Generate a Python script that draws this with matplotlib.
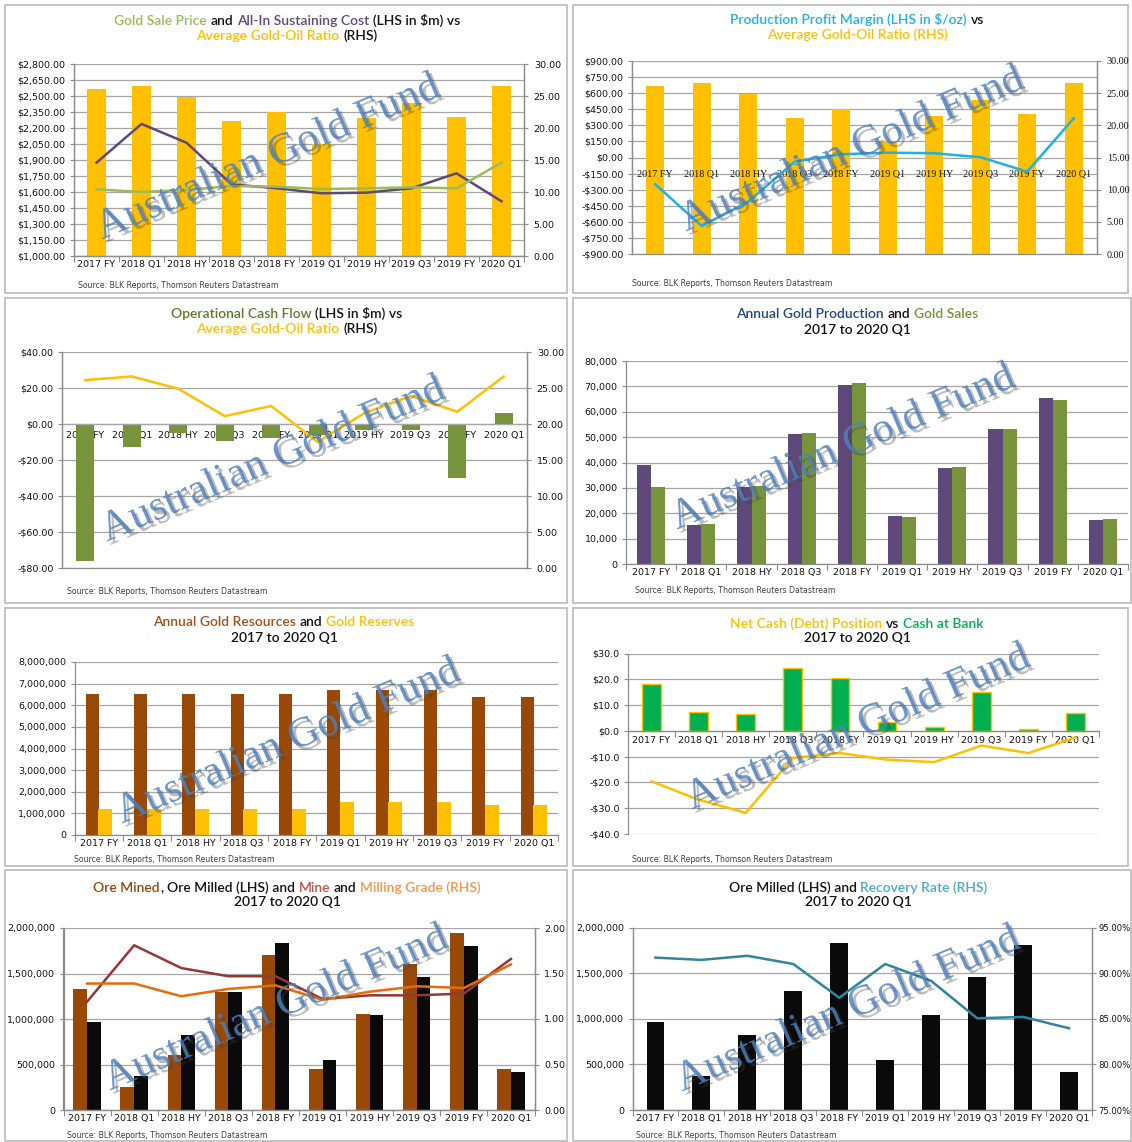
import numpy as np
import matplotlib
matplotlib.use('Agg')
import matplotlib.pyplot as plt
import matplotlib.patheffects as pe
from matplotlib.patches import Rectangle
from matplotlib.offsetbox import TextArea, HPacker, AnchoredOffsetbox

# ---------------- data ----------------
periods = ["2017 FY", "2018 Q1", "2018 HY", "2018 Q3", "2018 FY",
           "2019 Q1", "2019 HY", "2019 Q3", "2019 FY", "2020 Q1"]

gold_oil_ratio = [26.1, 26.6, 24.9, 21.1, 22.5, 17.5, 21.5, 23.9, 21.7, 26.6]
gold_sale_price = [1625, 1600, 1619, 1656, 1650, 1628, 1634, 1644, 1634, 1875]
aisc = [1875, 2238, 2062, 1672, 1635, 1588, 1594, 1635, 1775, 1513]
profit_margin = [-250, -639, -412, -39, 30, 45, 40, 2, -132, 366]
op_cash_flow = [-76.3, -13.0, -5.2, -9.3, -8.0, -6.2, -3.5, -3.5, -29.8, 6.0]
gold_production = [39200, 15500, 30300, 51200, 70500, 19000, 38000, 53300, 65400, 17500]
gold_sales = [30500, 15800, 30800, 51600, 71500, 18400, 38200, 53300, 64800, 17700]
gold_resources = [6500000, 6500000, 6500000, 6500000, 6500000,
                  6720000, 6720000, 6720000, 6390000, 6390000]
gold_reserves = [1200000, 1200000, 1200000, 1200000, 1200000,
                 1520000, 1520000, 1520000, 1380000, 1380000]
cash_at_bank = [18.3, 7.2, 6.6, 24.2, 20.6, 3.4, 1.5, 15.0, 0.6, 7.0]
net_cash = [-19.6, -26.7, -31.8, -10.5, -8.6, -11.2, -12.1, -5.7, -8.6, -2.6]
ore_mined = [1325000, 250000, 605000, 1292000, 1699000, 451000, 1057000, 1607000, 1941000, 455000]
ore_milled = [965000, 378000, 825000, 1300000, 1833000, 553000, 1045000, 1460000, 1806000, 421000]
mine_grade = [1.19, 1.81, 1.56, 1.47, 1.47, 1.22, 1.26, 1.26, 1.28, 1.66]
milling_grade = [1.39, 1.39, 1.25, 1.33, 1.37, 1.21, 1.30, 1.36, 1.34, 1.60]
recovery_rate = [91.7, 91.45, 91.9, 91.0, 87.3, 91.0, 89.15, 85.05, 85.2, 83.96]

source_text = "Source: BLK Reports, Thomson Reuters Datastream"
subtitle = "2017 to 2020 Q1"
watermark = "Australian Gold Fund"

# ---------------- style ----------------
W, H = 1132, 1142
GOLD = '#FFC000'
PURPLE = '#5F497A'
LGREEN = '#9BBB59'
OLIVE = '#77933C'
CYAN = '#1FB1E6'
BROWN = '#984807'
BGREEN = '#00B050'
MINE_RED = '#953735'
MILL_ORANGE = '#E46C0A'
TEAL = '#31859C'
NAVY = '#1F497D'
TXT = '#141414'
GRID = '#A6A6A6'
SPINE = '#8C8C8C'
TICKF = 'DejaVu Sans'
SERIF = 'Liberation Serif'
TITLEF = 'Lato'
TFS = 6.8
TITLE_FS = 10.0

fig = plt.figure(figsize=(W / 100, H / 100), dpi=100)
fig.patch.set_facecolor('white')
x = np.arange(len(periods))


def rect_axes(x0, y0, x1, y1):
    return fig.add_axes([x0 / W, 1 - y1 / H, (x1 - x0) / W, (y1 - y0) / H])


def frame(x0, y0, x1, y1):
    fig.add_artist(Rectangle((x0 / W, 1 - y1 / H), (x1 - x0) / W, (y1 - y0) / H,
                             transform=fig.transFigure, fill=False,
                             edgecolor='#BFBFBF', lw=1.3, zorder=0))


def base(ax):
    for s in ax.spines.values():
        s.set_color(SPINE)
        s.set_linewidth(0.9)
    ax.spines['top'].set_visible(False)
    ax.tick_params(axis='both', which='both', colors=TXT, labelsize=TFS,
                   color=SPINE, width=0.8, length=3)
    ax.set_xlim(-0.5, 9.5)


def cat_axis(ax, family=TICKF, size=TFS, pad=3, boundary=True):
    ax.set_xticks(x, labels=periods, fontfamily=family, fontsize=size, color=TXT)
    ax.tick_params(axis='x', which='major', length=0, pad=pad)
    if boundary:
        ax.set_xticks(np.arange(-0.5, 10, 1), minor=True)
        ax.tick_params(axis='x', which='minor', length=4, color=SPINE, width=0.8)


def yfmt(ax, vals, fmt, family=TICKF, size=TFS, pad=3):
    ax.set_yticks(vals, labels=[fmt(v) for v in vals], fontfamily=family,
                  fontsize=size, color=TXT)
    ax.tick_params(axis='y', which='major', pad=pad)


def money(dec):
    return lambda v: ('-$' if v < -1e-9 else '$') + f'{abs(v):,.{dec}f}'


def grid(ax, which='major'):
    ax.yaxis.grid(True, which=which, color=GRID, lw=0.9)
    ax.set_axisbelow(True)


def title(cx, cy1, cy2, line1, line2, size=TITLE_FS):
    props = lambda c: dict(color=c, fontsize=size, family=TITLEF, fontweight='semibold')
    for cy, segs in ((cy1, line1), (cy2, line2)):
        children = []
        for seg in segs:
            if isinstance(seg, list):
                sub = [TextArea(t, textprops=props(c)) for t, c in seg]
                children.append(HPacker(children=sub, align='baseline', pad=0, sep=0))
            else:
                t, c = seg
                children.append(TextArea(t, textprops=props(c)))
        box = HPacker(children=children, align='baseline', pad=0, sep=size * 0.26)
        ab = AnchoredOffsetbox(loc='center', child=box, pad=0, borderpad=0,
                               frameon=False, bbox_to_anchor=(cx / W, 1 - cy / H),
                               bbox_transform=fig.transFigure)
        fig.add_artist(ab)


def source(px, py):
    fig.text(px / W, 1 - py / H, source_text, fontsize=5.6, family=TICKF,
             color='#404040', ha='left', va='center')


def mark(cx, cy, rot=23):
    fig.text(cx / W, 1 - cy / H, watermark, fontsize=30.5, family=SERIF,
             color='#4F81BD', alpha=0.82, rotation=rot, rotation_mode='anchor',
             ha='center', va='center', zorder=50,
             path_effects=[pe.withSimplePatchShadow(offset=(2.5, -2.5),
                                                    shadow_rgbFace='#404040',
                                                    alpha=0.35)])


# ---------------- frames ----------------
frame(5, 5, 567, 293)
frame(573, 5, 1128, 293)
frame(5, 298, 567, 603)
frame(573, 298, 1131, 603)
frame(5, 608, 567, 866)
frame(573, 608, 1128, 866)
frame(5, 870, 567, 1141)
frame(573, 870, 1131, 1141)

# ---------------- Panel 1 ----------------
axL = rect_axes(74, 64, 524, 256)
axR = axL.twinx()
axL.set_zorder(axR.get_zorder() + 1)
axL.patch.set_visible(False)
base(axL); base(axR)
axR.bar(x, gold_oil_ratio, width=0.41, color=GOLD)
axR.set_ylim(0, 30)
yfmt(axR, np.arange(0, 30.1, 5), lambda v: f'{v:.2f}', pad=4)
axR.set_yticks(np.arange(0, 30.1, 2.5), minor=True)
axR.tick_params(axis='y', which='minor', length=0)
grid(axR, 'both')
axL.plot(x, aisc, color=PURPLE, lw=1.8)
axL.plot(x, gold_sale_price, color=LGREEN, lw=1.8)
axL.set_ylim(1000, 2800)
yfmt(axL, np.arange(1000, 2801, 150), money(2))
cat_axis(axL)
title(287, 20.5, 35.5,
      [("Gold Sale Price", LGREEN), ("and", TXT), ("All-In Sustaining Cost", PURPLE),
       ("(LHS in $m) vs", TXT)],
      [("Average Gold-Oil Ratio", GOLD), ("(RHS)", TXT)])
source(78, 285)

# ---------------- Panel 2 ----------------
axL = rect_axes(632, 61, 1097, 254)
axR = axL.twinx()
axL.set_zorder(axR.get_zorder() + 1)
axL.patch.set_visible(False)
base(axL); base(axR)
axR.bar(x, gold_oil_ratio, width=0.39, color=GOLD)
axR.set_ylim(0, 30)
yfmt(axR, np.arange(0, 30.1, 5), lambda v: f'{v:.2f}', family=SERIF, size=7.3, pad=4)
axR.set_yticks(np.arange(0, 30.1, 2.5), minor=True)
axR.tick_params(axis='y', which='minor', length=0)
grid(axR, 'both')
axL.plot(x, profit_margin, color=CYAN, lw=1.8)
axL.set_ylim(-900, 900)
yfmt(axL, np.arange(-900, 901, 150), money(2))
axL.spines['bottom'].set_position(('data', 0))
axL.spines['bottom'].set_visible(False)
cat_axis(axL, family=SERIF, size=7.3, pad=9, boundary=False)
title(857, 19.5, 34.5,
      [("Production Profit Margin (LHS in $/oz)", CYAN), ("vs", TXT)],
      [("Average Gold-Oil Ratio (RHS)", GOLD)])
source(632, 284)

# ---------------- Panel 3 ----------------
axL = rect_axes(62, 352, 527, 568)
axR = axL.twinx()
base(axL); base(axR)
axL.bar(x, op_cash_flow, width=0.38, color=OLIVE)
axL.set_ylim(-80, 40)
yfmt(axL, np.arange(-80, 41, 20), money(2))
grid(axL)
axL.spines['bottom'].set_position(('data', 0))
axL.spines['bottom'].set_color(GRID)
cat_axis(axL, pad=5, boundary=False)
axR.plot(x, gold_oil_ratio, color=GOLD, lw=1.8)
axR.set_ylim(0, 30)
yfmt(axR, np.arange(0, 30.1, 5), lambda v: f'{v:.2f}', pad=4)
title(287, 313.5, 329,
      [("Operational Cash Flow", '#5E7A2E'), ("(LHS in $m) vs", TXT)],
      [("Average Gold-Oil Ratio", GOLD), ("(RHS)", TXT)])
source(67, 591.5)

# ---------------- Panel 4 ----------------
ax = rect_axes(626, 361, 1128, 564)
base(ax)
ax.spines['right'].set_visible(False)
ax.bar(x - 0.14, gold_production, width=0.28, color=PURPLE)
ax.bar(x + 0.14, gold_sales, width=0.28, color=OLIVE)
ax.set_ylim(0, 80000)
yfmt(ax, np.arange(0, 80001, 10000), lambda v: f'{v:,.0f}')
grid(ax)
cat_axis(ax)
title(857, 314, 329.5,
      [("Annual Gold Production", NAVY), ("and", TXT), ("Gold Sales", OLIVE)],
      [(subtitle, TXT)])
source(635, 590.5)

# ---------------- Panel 5 ----------------
ax = rect_axes(74.5, 662, 558, 835)
base(ax)
ax.spines['right'].set_visible(False)
ax.bar(x - 0.135, gold_resources, width=0.27, color=BROWN)
ax.bar(x + 0.135, gold_reserves, width=0.29, color=GOLD)
ax.set_ylim(0, 8000000)
yfmt(ax, np.arange(0, 8000001, 1000000), lambda v: f'{v:,.0f}')
grid(ax)
cat_axis(ax)
title(284, 622.5, 638.5,
      [("Annual Gold Resources", '#A0521A'), ("and", TXT), ("Gold Reserves", GOLD)],
      [(subtitle, TXT)])
source(74.5, 860)

# ---------------- Panel 6 ----------------
ax = rect_axes(628, 653.5, 1099, 834)
base(ax)
ax.spines['right'].set_visible(False)
ax.bar(x, cash_at_bank, width=0.40, color=BGREEN, edgecolor=GOLD, linewidth=1.0)
ax.plot(x, net_cash, color=GOLD, lw=1.8)
ax.set_ylim(-40, 30)
yfmt(ax, np.arange(-40, 30.1, 10), money(1))
grid(ax)
ax.spines['bottom'].set_position(('data', 0))
cat_axis(ax, pad=4)
title(857, 623.5, 638.5,
      [("Net Cash (Debt) Position", GOLD), ("vs", TXT), ("Cash at Bank", BGREEN)],
      [(subtitle, TXT)])
source(632, 860)

# ---------------- Panel 7 ----------------
axL = rect_axes(63.5, 928, 534.5, 1110)
axR = axL.twinx()
base(axL); base(axR)
axL.bar(x - 0.145, ore_mined, width=0.29, color=BROWN)
axL.bar(x + 0.145, ore_milled, width=0.29, color='#0A0A0A')
axL.set_ylim(0, 2000000)
yfmt(axL, np.arange(0, 2000001, 500000), lambda v: f'{v:,.0f}')
grid(axL)
cat_axis(axL)
axR.plot(x, mine_grade, color=MINE_RED, lw=1.8)
axR.plot(x, milling_grade, color=MILL_ORANGE, lw=1.8)
axR.set_ylim(0, 2)
yfmt(axR, np.arange(0, 2.01, 0.5), lambda v: f'{v:.2f}', pad=4)
title(287, 887.5, 902.5,
      [[("Ore Mined", BROWN), (",", TXT)], ("Ore Milled (LHS) and", TXT),
       ("Mine", '#C0504D'), ("and", TXT), ("Milling Grade (RHS)", '#F79646')],
      [(subtitle, TXT)])
source(67, 1135)

# ---------------- Panel 8 ----------------
axL = rect_axes(632.5, 927.5, 1092, 1110)
axR = axL.twinx()
base(axL); base(axR)
axL.bar(x, ore_milled, width=0.39, color='#0A0A0A')
axL.set_ylim(0, 2000000)
yfmt(axL, np.arange(0, 2000001, 500000), lambda v: f'{v:,.0f}')
grid(axL)
cat_axis(axL)
axR.plot(x, recovery_rate, color=TEAL, lw=1.8)
axR.set_ylim(75, 95)
yfmt(axR, np.arange(75, 95.1, 5), lambda v: f'{v:.2f}%', size=6.1, pad=1.5)
title(858, 887.5, 902.5,
      [("Ore Milled (LHS) and", TXT), ("Recovery Rate (RHS)", '#4BACC6')],
      [(subtitle, TXT)])
source(635.5, 1135)

# ---------------- watermarks ----------------
mark(268, 158)
mark(852, 150)
mark(273, 460)
mark(843, 448)
mark(288, 742)
mark(858, 728)
mark(276, 1009)
mark(848, 1010)

fig.savefig('out.png', dpi=100, facecolor='white')
